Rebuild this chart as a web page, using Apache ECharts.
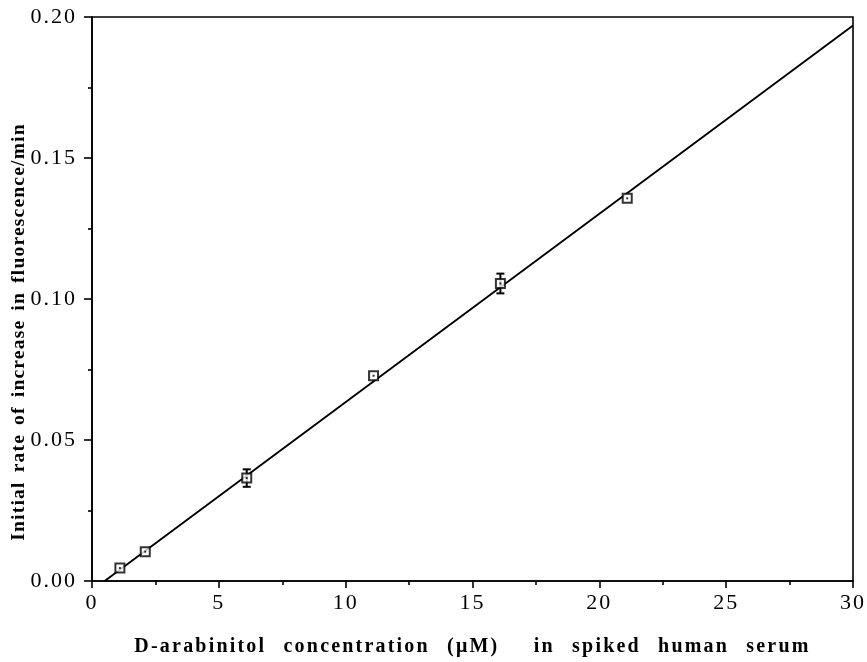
<!DOCTYPE html>
<html><head><meta charset="utf-8">
<script src="https://cdn.jsdelivr.net/npm/echarts@6/dist/echarts.min.js"></script>
<style>
html,body{margin:0;padding:0;background:#fff}
#c{width:867px;height:662px}
</style>
</head><body><div id="c"></div>
<script>
const concentrations = [1.1, 2.1, 6.1, 11.1, 16.1, 21.1];
const rates = [0.0046, 0.0104, 0.0365, 0.0728, 0.1055, 0.1357];
const errors = [0, 0, 0.0031, 0, 0.0035, 0];
const fitX = [0.5, 30];
const fitY = [0, 0.197];
const xTicks = [0, 5, 10, 15, 20, 25, 30];
const yTicks = [0.00, 0.05, 0.10, 0.15, 0.20];
const xTitle = 'D-arabinitol concentration (μM)  in spiked human serum';
const yTitle = 'Initial rate of increase in fluorescence/min';

// spaced type like the scanned original
(function () {
  const P = CanvasRenderingContext2D.prototype;
  const orig = P.fillText;
  P.fillText = function (t, x, y, m) {
    const f = this.font || '';
    if (f.indexOf('20px') >= 0) { this.letterSpacing = '2.2px'; this.wordSpacing = '10px'; }
    else if (f.indexOf('19.5px') >= 0) { this.letterSpacing = '1.2px'; this.wordSpacing = '3px'; }
    else if (f.indexOf('22px') >= 0) { this.letterSpacing = '2px'; this.wordSpacing = '0px'; }
    else { this.letterSpacing = '0px'; this.wordSpacing = '0px'; }
    return m === undefined ? orig.call(this, t, x, y) : orig.call(this, t, x, y, m);
  };
})();

const pts = concentrations.map((x, i) => [x, rates[i]]);
const errData = concentrations.map((x, i) => [x, rates[i] - errors[i], rates[i] + errors[i], errors[i]]);
const fitData = fitX.map((x, i) => [x, fitY[i]]);
const font = '"Liberation Serif", "Times New Roman", serif';

const chart = echarts.init(document.getElementById('c'));
chart.setOption({
  animation: false,
  backgroundColor: '#fff',
  grid: {left: 92, right: 13, top: 17, bottom: 81, show: true, borderColor: '#000', borderWidth: 1.6},
  graphic: [{
    type: 'text', x: 19, y: 332, rotation: Math.PI / 2, silent: true,
    style: {text: yTitle, fill: '#000', font: 'bold 19.5px ' + font, align: 'center', verticalAlign: 'middle'}
  }],
  xAxis: {
    type: 'value', min: 0, max: 30, interval: 5,
    axisLine: {show: true, lineStyle: {color: '#000', width: 1.6}},
    axisTick: {show: true, inside: false, length: 7, lineStyle: {color: '#000', width: 1.6}},
    minorTick: {show: true, splitNumber: 2, length: 4, lineStyle: {color: '#000', width: 1.6}},
    splitLine: {show: false},
    axisLabel: {margin: 11, color: '#000', fontFamily: font, fontSize: 22,
      formatter: v => xTicks.includes(v) ? String(v) : ''},
    name: xTitle,
    nameLocation: 'middle', nameGap: 56,
    nameTextStyle: {color: '#000', fontFamily: font, fontSize: 20, fontWeight: 'bold'}
  },
  yAxis: {
    type: 'value', min: 0, max: 0.2, interval: 0.05,
    axisLine: {show: true, lineStyle: {color: '#000', width: 1.6}},
    axisTick: {show: true, inside: false, length: 8, lineStyle: {color: '#000', width: 1.6}},
    minorTick: {show: true, splitNumber: 2, length: 4, lineStyle: {color: '#000', width: 1.6}},
    splitLine: {show: false},
    axisLabel: {margin: 15, color: '#000', fontFamily: font, fontSize: 22,
      formatter: v => { const t = yTicks.find(k => Math.abs(k - v) < 1e-9); return t === undefined ? '' : t.toFixed(2); }},
    name: ''
  },
  series: [
    {type: 'line', data: fitData, showSymbol: false, symbol: 'none',
     lineStyle: {color: '#000', width: 1.9}, z: 2},
    {type: 'custom', data: errData, z: 3,
     renderItem: (params, api) => {
       if (api.value(3) === 0) return null;
       const x = api.value(0);
       const lo = api.coord([x, api.value(1)]);
       const hi = api.coord([x, api.value(2)]);
       const w = 4;
       const st = {stroke: '#000', lineWidth: 2};
       return {type: 'group', children: [
         {type: 'line', shape: {x1: lo[0], y1: lo[1], x2: hi[0], y2: hi[1]}, style: st},
         {type: 'line', shape: {x1: lo[0] - w, y1: lo[1], x2: lo[0] + w, y2: lo[1]}, style: st},
         {type: 'line', shape: {x1: hi[0] - w, y1: hi[1], x2: hi[0] + w, y2: hi[1]}, style: st}
       ]};
     }},
    {type: 'scatter', data: pts, symbol: 'rect', symbolSize: 9, z: 4,
     itemStyle: {color: '#fff', borderColor: '#000', borderWidth: 2}},
    {type: 'scatter', data: pts, symbol: 'rect', symbolSize: 2, z: 5,
     itemStyle: {color: '#000'}}
  ]
});
</script></body></html>
